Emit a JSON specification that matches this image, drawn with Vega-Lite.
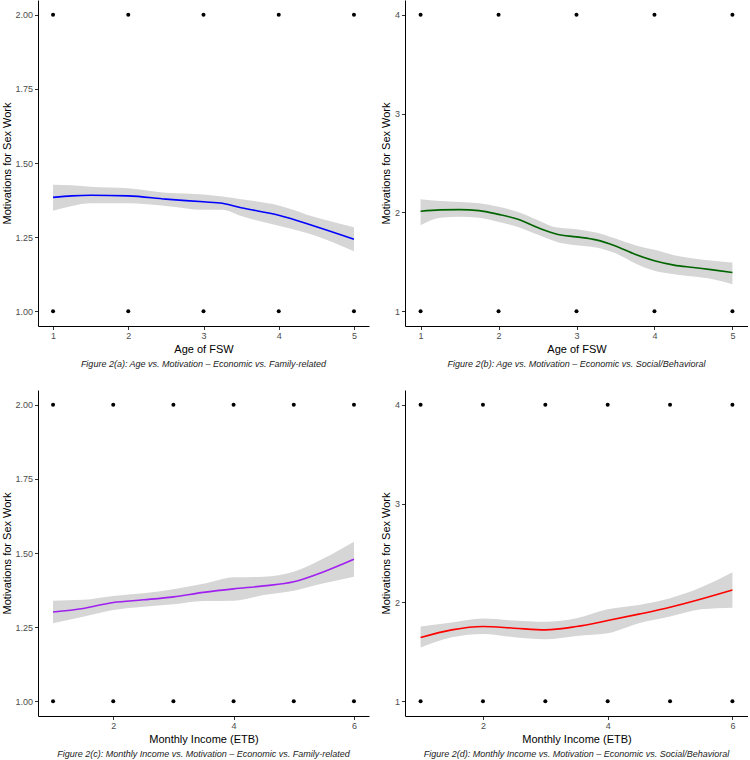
{
  "$schema": "https://vega.github.io/schema/vega-lite/v6.json",
  "background": "white",
  "padding": {"left": 1, "top": 0, "right": 0, "bottom": 0},
  "autosize": {"type": "pad"},
  "spacing": 21,
  "config": {
    "font": "Liberation Sans",
    "view": {"stroke": null},
    "axis": {
      "grid": false,
      "domainColor": "#000000",
      "domainWidth": 1,
      "tickColor": "#333333",
      "tickSize": 3.5,
      "tickWidth": 1,
      "labelColor": "#4D4D4D",
      "labelFontSize": 9,
      "labelPadding": 2,
      "titleFontSize": 11,
      "titleFontWeight": "normal",
      "titleColor": "#000000"
    },
    "axisX": {"titlePadding": 3},
    "axisY": {"titlePadding": 2},
    "title": {"fontSize": 9, "fontStyle": "italic", "fontWeight": "normal", "color": "#222222", "orient": "bottom", "anchor": "middle", "frame": "group", "offset": 5},
    "concat": {"spacing": 11}
  },
  "datasets": {
    "points": [
      {"panel": "a", "x": 1, "y": 1}, {"panel": "a", "x": 2, "y": 1}, {"panel": "a", "x": 3, "y": 1}, {"panel": "a", "x": 4, "y": 1}, {"panel": "a", "x": 5, "y": 1},
      {"panel": "a", "x": 1, "y": 2}, {"panel": "a", "x": 2, "y": 2}, {"panel": "a", "x": 3, "y": 2}, {"panel": "a", "x": 4, "y": 2}, {"panel": "a", "x": 5, "y": 2},
      {"panel": "b", "x": 1, "y": 1}, {"panel": "b", "x": 2, "y": 1}, {"panel": "b", "x": 3, "y": 1}, {"panel": "b", "x": 4, "y": 1}, {"panel": "b", "x": 5, "y": 1},
      {"panel": "b", "x": 1, "y": 4}, {"panel": "b", "x": 2, "y": 4}, {"panel": "b", "x": 3, "y": 4}, {"panel": "b", "x": 4, "y": 4}, {"panel": "b", "x": 5, "y": 4},
      {"panel": "c", "x": 1, "y": 1}, {"panel": "c", "x": 2, "y": 1}, {"panel": "c", "x": 3, "y": 1}, {"panel": "c", "x": 4, "y": 1}, {"panel": "c", "x": 5, "y": 1}, {"panel": "c", "x": 6, "y": 1},
      {"panel": "c", "x": 1, "y": 2}, {"panel": "c", "x": 2, "y": 2}, {"panel": "c", "x": 3, "y": 2}, {"panel": "c", "x": 4, "y": 2}, {"panel": "c", "x": 5, "y": 2}, {"panel": "c", "x": 6, "y": 2},
      {"panel": "d", "x": 1, "y": 1}, {"panel": "d", "x": 2, "y": 1}, {"panel": "d", "x": 3, "y": 1}, {"panel": "d", "x": 4, "y": 1}, {"panel": "d", "x": 5, "y": 1}, {"panel": "d", "x": 6, "y": 1},
      {"panel": "d", "x": 1, "y": 4}, {"panel": "d", "x": 2, "y": 4}, {"panel": "d", "x": 3, "y": 4}, {"panel": "d", "x": 4, "y": 4}, {"panel": "d", "x": 5, "y": 4}, {"panel": "d", "x": 6, "y": 4}
    ],
    "smooth": [
      {"panel": "a", "x": 1, "fit": 1.384, "lo": 1.339, "hi": 1.427},
      {"panel": "a", "x": 1.25, "fit": 1.389, "lo": 1.355, "hi": 1.425},
      {"panel": "a", "x": 1.5, "fit": 1.391, "lo": 1.364, "hi": 1.42},
      {"panel": "a", "x": 2, "fit": 1.389, "lo": 1.364, "hi": 1.415},
      {"panel": "a", "x": 2.5, "fit": 1.378, "lo": 1.355, "hi": 1.4},
      {"panel": "a", "x": 3, "fit": 1.369, "lo": 1.342, "hi": 1.394},
      {"panel": "a", "x": 3.25, "fit": 1.364, "lo": 1.342, "hi": 1.387},
      {"panel": "a", "x": 3.5, "fit": 1.349, "lo": 1.321, "hi": 1.378},
      {"panel": "a", "x": 4, "fit": 1.324, "lo": 1.288, "hi": 1.357},
      {"panel": "a", "x": 4.5, "fit": 1.285, "lo": 1.254, "hi": 1.316},
      {"panel": "a", "x": 5, "fit": 1.243, "lo": 1.202, "hi": 1.283},
      {"panel": "b", "x": 1, "fit": 2.011, "lo": 1.87, "hi": 2.132},
      {"panel": "b", "x": 1.25, "fit": 2.025, "lo": 1.947, "hi": 2.115},
      {"panel": "b", "x": 1.5, "fit": 2.028, "lo": 1.957, "hi": 2.105},
      {"panel": "b", "x": 1.75, "fit": 2.018, "lo": 1.947, "hi": 2.092},
      {"panel": "b", "x": 2, "fit": 1.98, "lo": 1.903, "hi": 2.058},
      {"panel": "b", "x": 2.25, "fit": 1.93, "lo": 1.853, "hi": 2.005},
      {"panel": "b", "x": 2.5, "fit": 1.846, "lo": 1.775, "hi": 1.924},
      {"panel": "b", "x": 2.75, "fit": 1.779, "lo": 1.701, "hi": 1.846},
      {"panel": "b", "x": 3, "fit": 1.752, "lo": 1.667, "hi": 1.83},
      {"panel": "b", "x": 3.25, "fit": 1.722, "lo": 1.644, "hi": 1.796},
      {"panel": "b", "x": 3.5, "fit": 1.661, "lo": 1.586, "hi": 1.735},
      {"panel": "b", "x": 3.75, "fit": 1.577, "lo": 1.486, "hi": 1.668},
      {"panel": "b", "x": 4, "fit": 1.51, "lo": 1.409, "hi": 1.621},
      {"panel": "b", "x": 4.25, "fit": 1.466, "lo": 1.375, "hi": 1.567},
      {"panel": "b", "x": 4.5, "fit": 1.442, "lo": 1.351, "hi": 1.533},
      {"panel": "b", "x": 4.75, "fit": 1.418, "lo": 1.324, "hi": 1.51},
      {"panel": "b", "x": 5, "fit": 1.391, "lo": 1.273, "hi": 1.493},
      {"panel": "c", "x": 1, "fit": 1.301, "lo": 1.263, "hi": 1.339},
      {"panel": "c", "x": 1.5, "fit": 1.313, "lo": 1.285, "hi": 1.342},
      {"panel": "c", "x": 2, "fit": 1.333, "lo": 1.308, "hi": 1.355},
      {"panel": "c", "x": 2.5, "fit": 1.342, "lo": 1.319, "hi": 1.364},
      {"panel": "c", "x": 3, "fit": 1.352, "lo": 1.327, "hi": 1.378},
      {"panel": "c", "x": 3.5, "fit": 1.367, "lo": 1.338, "hi": 1.396},
      {"panel": "c", "x": 4, "fit": 1.379, "lo": 1.339, "hi": 1.418},
      {"panel": "c", "x": 4.5, "fit": 1.389, "lo": 1.358, "hi": 1.42},
      {"panel": "c", "x": 5, "fit": 1.403, "lo": 1.373, "hi": 1.437},
      {"panel": "c", "x": 5.5, "fit": 1.437, "lo": 1.398, "hi": 1.482},
      {"panel": "c", "x": 6, "fit": 1.479, "lo": 1.42, "hi": 1.538},
      {"panel": "d", "x": 1, "fit": 1.644, "lo": 1.544, "hi": 1.756},
      {"panel": "d", "x": 1.5, "fit": 1.722, "lo": 1.647, "hi": 1.796},
      {"panel": "d", "x": 2, "fit": 1.756, "lo": 1.681, "hi": 1.836},
      {"panel": "d", "x": 2.5, "fit": 1.739, "lo": 1.647, "hi": 1.816},
      {"panel": "d", "x": 3, "fit": 1.722, "lo": 1.627, "hi": 1.803},
      {"panel": "d", "x": 3.5, "fit": 1.756, "lo": 1.661, "hi": 1.839},
      {"panel": "d", "x": 4, "fit": 1.816, "lo": 1.688, "hi": 1.931},
      {"panel": "d", "x": 4.5, "fit": 1.881, "lo": 1.789, "hi": 1.974},
      {"panel": "d", "x": 5, "fit": 1.951, "lo": 1.857, "hi": 2.042},
      {"panel": "d", "x": 5.5, "fit": 2.035, "lo": 1.93, "hi": 2.153},
      {"panel": "d", "x": 6, "fit": 2.126, "lo": 1.947, "hi": 2.305}
    ]
  },
  "vconcat": [
    {
      "hconcat": [
        {
          "width": 331, "height": 326,
          "title": {"text": "Figure 2(a): Age vs. Motivation – Economic vs. Family-related"},
          "encoding": {"x": {"field": "x", "type": "quantitative", "scale": {"domain": [0.8, 5.2], "nice": false, "zero": false}, "axis": {"values": [1, 2, 3, 4, 5], "title": "Age of FSW", "format": "d"}}},
          "layer": [
            {"data": {"name": "smooth"}, "transform": [{"filter": "datum.panel === 'a'"}], "mark": {"type": "area", "color": "#d6d6d6", "interpolate": "monotone"},
             "encoding": {"y": {"field": "lo", "type": "quantitative", "scale": {"domain": [0.95, 2.05], "nice": false, "zero": false}, "axis": {"values": [1, 1.25, 1.5, 1.75, 2], "format": ".2f", "title": "Motivations for Sex Work"}}, "y2": {"field": "hi"}}},
            {"data": {"name": "smooth"}, "transform": [{"filter": "datum.panel === 'a'"}], "mark": {"type": "line", "color": "#0000FF", "strokeWidth": 1.6, "interpolate": "monotone"},
             "encoding": {"y": {"field": "fit", "type": "quantitative", "title": "Motivations for Sex Work"}}},
            {"data": {"name": "points"}, "transform": [{"filter": "datum.panel === 'a'"}], "mark": {"type": "circle", "color": "#000000", "size": 16, "opacity": 1},
             "encoding": {"y": {"field": "y", "type": "quantitative", "title": "Motivations for Sex Work"}}}
          ]
        },
        {
          "width": 343, "height": 326,
          "title": {"text": "Figure 2(b): Age vs. Motivation – Economic vs. Social/Behavioral"},
          "encoding": {"x": {"field": "x", "type": "quantitative", "scale": {"domain": [0.8, 5.2], "nice": false, "zero": false}, "axis": {"values": [1, 2, 3, 4, 5], "title": "Age of FSW", "format": "d"}}},
          "layer": [
            {"data": {"name": "smooth"}, "transform": [{"filter": "datum.panel === 'b'"}], "mark": {"type": "area", "color": "#d6d6d6", "interpolate": "monotone"},
             "encoding": {"y": {"field": "lo", "type": "quantitative", "scale": {"domain": [0.85, 4.15], "nice": false, "zero": false}, "axis": {"values": [1, 2, 3, 4], "format": "d", "title": "Motivations for Sex Work", "titlePadding": 3}}, "y2": {"field": "hi"}}},
            {"data": {"name": "smooth"}, "transform": [{"filter": "datum.panel === 'b'"}], "mark": {"type": "line", "color": "#006400", "strokeWidth": 1.6, "interpolate": "monotone"},
             "encoding": {"y": {"field": "fit", "type": "quantitative", "title": "Motivations for Sex Work"}}},
            {"data": {"name": "points"}, "transform": [{"filter": "datum.panel === 'b'"}], "mark": {"type": "circle", "color": "#000000", "size": 16, "opacity": 1},
             "encoding": {"y": {"field": "y", "type": "quantitative", "title": "Motivations for Sex Work"}}}
          ]
        }
      ]
    },
    {
      "hconcat": [
        {
          "width": 331, "height": 326,
          "title": {"text": "Figure 2(c): Monthly Income vs. Motivation – Economic vs. Family-related"},
          "encoding": {"x": {"field": "x", "type": "quantitative", "scale": {"domain": [0.75, 6.25], "nice": false, "zero": false}, "axis": {"values": [2, 4, 6], "title": "Monthly Income (ETB)", "format": "d"}}},
          "layer": [
            {"data": {"name": "smooth"}, "transform": [{"filter": "datum.panel === 'c'"}], "mark": {"type": "area", "color": "#d6d6d6", "interpolate": "monotone"},
             "encoding": {"y": {"field": "lo", "type": "quantitative", "scale": {"domain": [0.95, 2.05], "nice": false, "zero": false}, "axis": {"values": [1, 1.25, 1.5, 1.75, 2], "format": ".2f", "title": "Motivations for Sex Work"}}, "y2": {"field": "hi"}}},
            {"data": {"name": "smooth"}, "transform": [{"filter": "datum.panel === 'c'"}], "mark": {"type": "line", "color": "#A020F0", "strokeWidth": 1.6, "interpolate": "monotone"},
             "encoding": {"y": {"field": "fit", "type": "quantitative", "title": "Motivations for Sex Work"}}},
            {"data": {"name": "points"}, "transform": [{"filter": "datum.panel === 'c'"}], "mark": {"type": "circle", "color": "#000000", "size": 16, "opacity": 1},
             "encoding": {"y": {"field": "y", "type": "quantitative", "title": "Motivations for Sex Work"}}}
          ]
        },
        {
          "width": 343, "height": 326,
          "title": {"text": "Figure 2(d): Monthly Income vs. Motivation – Economic vs. Social/Behavioral"},
          "encoding": {"x": {"field": "x", "type": "quantitative", "scale": {"domain": [0.75, 6.25], "nice": false, "zero": false}, "axis": {"values": [2, 4, 6], "title": "Monthly Income (ETB)", "format": "d"}}},
          "layer": [
            {"data": {"name": "smooth"}, "transform": [{"filter": "datum.panel === 'd'"}], "mark": {"type": "area", "color": "#d6d6d6", "interpolate": "monotone"},
             "encoding": {"y": {"field": "lo", "type": "quantitative", "scale": {"domain": [0.85, 4.15], "nice": false, "zero": false}, "axis": {"values": [1, 2, 3, 4], "format": "d", "title": "Motivations for Sex Work", "titlePadding": 3}}, "y2": {"field": "hi"}}},
            {"data": {"name": "smooth"}, "transform": [{"filter": "datum.panel === 'd'"}], "mark": {"type": "line", "color": "#FF0000", "strokeWidth": 1.6, "interpolate": "monotone"},
             "encoding": {"y": {"field": "fit", "type": "quantitative", "title": "Motivations for Sex Work"}}},
            {"data": {"name": "points"}, "transform": [{"filter": "datum.panel === 'd'"}], "mark": {"type": "circle", "color": "#000000", "size": 16, "opacity": 1},
             "encoding": {"y": {"field": "y", "type": "quantitative", "title": "Motivations for Sex Work"}}}
          ]
        }
      ]
    }
  ]
}
